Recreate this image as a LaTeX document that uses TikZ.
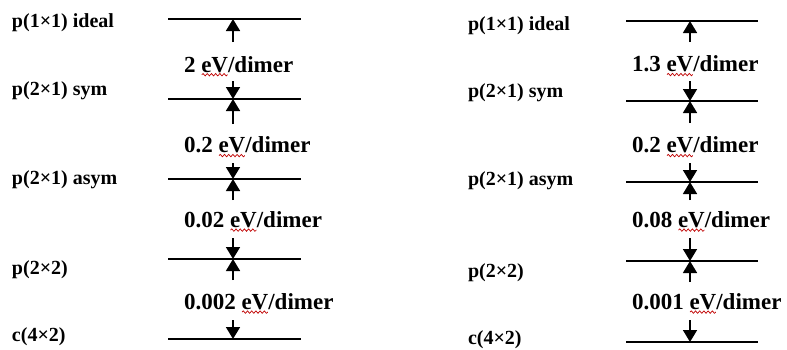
\documentclass[tikz,border=0pt]{standalone}
\usepackage{fontspec}
\setmainfont{Liberation Serif}
\usetikzlibrary{arrows.meta,decorations.pathmorphing,calc}
\tikzset{
  lvl/.style={line width=1.6pt, black},
  arr/.style={line width=1.6pt, -{Triangle[width=14pt,length=12pt]}},
  lab/.style={inner sep=0pt, outer sep=0pt, anchor=west, font=\bfseries\fontsize{20}{22}\selectfont},
  en/.style={inner sep=0pt, outer sep=0pt, font=\bfseries\fontsize{23}{25}\selectfont},
  squig/.style={draw=red!75!black, line width=0.7pt, decorate, decoration={snake, amplitude=1.2pt, segment length=4.2pt}}
}
\newcommand\energy[4]{%
  \node[en, anchor=west] (#1n) at (#2,#3) {#4};
  \node[en, anchor=base west] (#1v) at ([xshift=5.75pt]#1n.base east) {eV};
  \node[en, anchor=base west] (#1d) at (#1v.base east) {/dimer};
  \draw[squig] ([xshift=0.5pt,yshift=-2.6pt]#1v.base west) -- ([xshift=-0.5pt,yshift=-2.6pt]#1v.base east);
}
\begin{document}
\begin{tikzpicture}[x=1pt,y=-1pt]
\useasboundingbox (0,0) rectangle (787,349);
% ---------- left panel ----------
\node[lab] (L1) at (12,23) {p(1×1) ideal};
\node[lab] (L2) at (12,91) {p(2×1) sym};
\node[lab] (L3) at (12,179.5) {p(2×1) asym};
\node[lab] (L4) at (12,270) {p(2×2)};
\node[lab] (L5) at (12,337) {c(4×2)};
\foreach \i/\y in {1/19,2/99,3/179,4/259,5/339}{
  \coordinate (La\i w) at (168,\y);
  \coordinate (La\i e) at (301,\y);
  \coordinate (La\i m) at (233,\y);
}
\foreach \i in {1,...,5}{\draw[lvl] (La\i w) -- (La\i e);}
\coordinate (La1u) at (233,42);
\coordinate (La2d) at (233,81);
\coordinate (La2u) at (233,124);
\coordinate (La3d) at (233,163);
\coordinate (La3u) at (233,200);
\coordinate (La4d) at (233,238);
\coordinate (La4u) at (233,280);
\coordinate (La5d) at (233,320);
\draw[arr] (La1u) -- (La1m);
\draw[arr] (La2d) -- (La2m);
\draw[arr] (La2u) -- (La2m);
\draw[arr] (La3d) -- (La3m);
\draw[arr] (La3u) -- (La3m);
\draw[arr] (La4d) -- (La4m);
\draw[arr] (La4u) -- (La4m);
\draw[arr] (La5d) -- (La5m);
\energy{ea}{184}{64.5}{2}
\energy{eb}{184}{145.5}{0.2}
\energy{ec}{184}{220}{0.02}
\energy{ed}{184}{302}{0.002}
% ---------- right panel ----------
\node[lab] (R1) at (468,25.5) {p(1×1) ideal};
\node[lab] (R2) at (468,92.5) {p(2×1) sym};
\node[lab] (R3) at (468,181) {p(2×1) asym};
\node[lab] (R4) at (468,272.5) {p(2×2)};
\node[lab] (R5) at (468,340) {c(4×2)};
\foreach \i/\y in {1/21,2/101,3/182,4/261,5/342}{
  \coordinate (Ra\i w) at (626,\y);
  \coordinate (Ra\i e) at (758,\y);
  \coordinate (Ra\i m) at (690,\y);
}
\foreach \i in {1,...,5}{\draw[lvl] (Ra\i w) -- (Ra\i e);}
\coordinate (Ra1u) at (690,42);
\coordinate (Ra2d) at (690,81);
\coordinate (Ra2u) at (690,123);
\coordinate (Ra3d) at (690,163);
\coordinate (Ra3u) at (690,200);
\coordinate (Ra4d) at (690,238);
\coordinate (Ra4u) at (690,282);
\coordinate (Ra5d) at (690,320);
\draw[arr] (Ra1u) -- (Ra1m);
\draw[arr] (Ra2d) -- (Ra2m);
\draw[arr] (Ra2u) -- (Ra2m);
\draw[arr] (Ra3d) -- (Ra3m);
\draw[arr] (Ra3u) -- (Ra3m);
\draw[arr] (Ra4d) -- (Ra4m);
\draw[arr] (Ra4u) -- (Ra4m);
\draw[arr] (Ra5d) -- (Ra5m);
\energy{ra}{632}{64.5}{1.3}
\energy{rb}{632}{145.5}{0.2}
\energy{rc}{632}{220}{0.08}
\energy{rd}{632}{302}{0.001}
\end{tikzpicture}
\end{document}
